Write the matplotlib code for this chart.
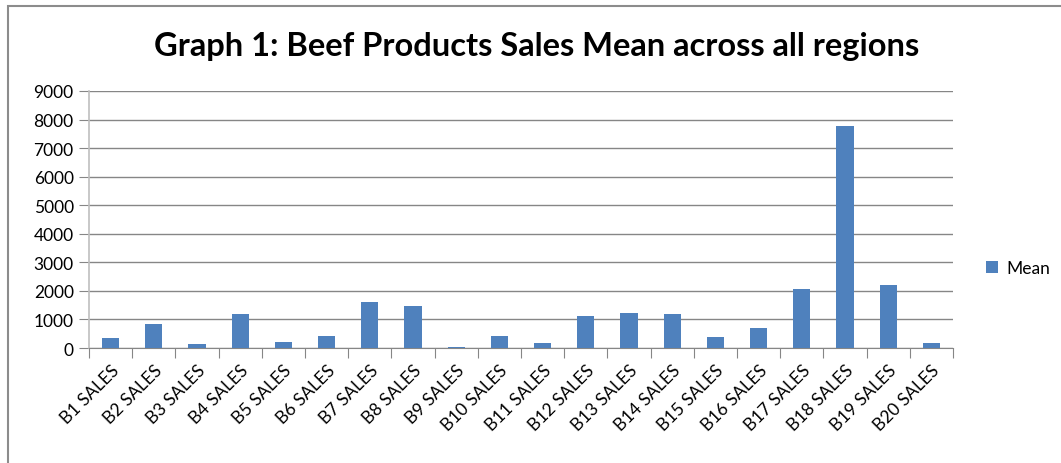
import numpy as np
import matplotlib.pyplot as plt
from matplotlib.patches import Rectangle

# mean sales per beef product
products = ['B%d SALES' % i for i in range(1, 21)]
means = [350, 840, 140, 1190, 210, 420, 1610, 1470, 35, 420,
         175, 1120, 1230, 1190, 385, 700, 2070, 7780, 2210, 175]
yticks = [0, 1000, 2000, 3000, 4000, 5000, 6000, 7000, 8000, 9000]

plt.rcParams['font.family'] = ['Lato', 'DejaVu Sans']

W, H = 1061, 464
fig = plt.figure(figsize=(W / 100, H / 100), dpi=100)

# chart frame, running off the right and bottom edges
fig.patches.append(Rectangle((8 / W, -0.1), 1.2, 1 - 7 / H + 0.1,
                             transform=fig.transFigure, fill=False,
                             edgecolor='#8c8c8c', linewidth=1.5))

ax = fig.add_axes([89 / W, 1 - 349 / H, (953 - 89) / W, (349 - 92) / H])
x = np.arange(len(products))
ax.bar(x, means, width=0.4, color='#4F81BD', label='Mean', zorder=3)

ax.set_xlim(-0.5, len(products) - 0.5)
ax.set_ylim(0, 9000)
ax.set_yticks(yticks)
ax.set_yticklabels([str(v) for v in yticks], fontsize=12.5)
ax.yaxis.grid(True, color='#868686', linewidth=1)
ax.set_axisbelow(True)

# category ticks sit between the bars
ax.set_xticks(np.arange(len(products) + 1) - 0.5, minor=False)
ax.set_xticklabels([])
ax.set_xticks(x, minor=True)
ax.set_xticklabels(products, minor=True, rotation=45, ha='right',
                   rotation_mode='anchor', fontsize=12.5)
ax.tick_params(axis='x', which='minor', length=0, pad=10)
ax.tick_params(axis='x', which='major', length=7, color='#868686')
ax.tick_params(axis='y', length=7, color='#868686', pad=4)

for s in ['top', 'right']:
    ax.spines[s].set_visible(False)
ax.spines['bottom'].set_color('#868686')
ax.spines['left'].set_color('#bfbfbf')
ax.spines['left'].set_linewidth(1.2)

fig.text(537 / W, 1 - 47 / H, 'Graph 1: Beef Products Sales Mean across all regions',
         ha='center', va='center', fontsize=23.5, fontweight='bold')

fig.legend(loc='center left', bbox_to_anchor=(970 / W, 1 - 269 / H),
           frameon=False, fontsize=12.5, handlelength=0.7, handleheight=0.7,
           handletextpad=0.5)

fig.savefig('out.png', dpi=100)
